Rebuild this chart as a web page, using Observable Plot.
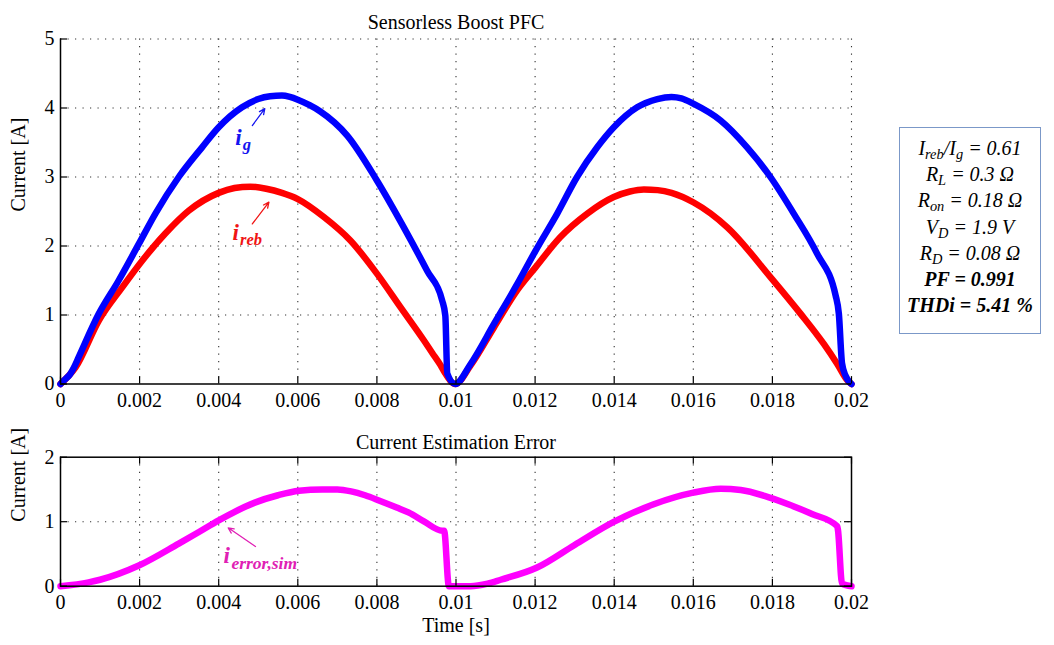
<!DOCTYPE html>
<html>
<head>
<meta charset="utf-8">
<script src="https://cdn.jsdelivr.net/npm/d3@7"></script>
<script src="https://cdn.jsdelivr.net/npm/@observablehq/plot@0.6"></script>
<style>
  body { margin: 0; background: #fff; }
  #chart { position: relative; width: 1054px; height: 645px; font-family: "Liberation Serif", "Times New Roman", serif; }
  #top, #bottom { position: absolute; left: 0; }
  #top { top: 0; }
  #bottom { top: 420px; }
  #params {
    position: absolute; left: 899px; top: 127px; width: 140px; height: 198px;
    border: 1px solid #7b98c8; background: #fff;
    font-family: "Liberation Serif", "Times New Roman", serif; font-style: italic; font-size: 20px;
    line-height: 26.2px; text-align: center; padding-top: 7px; box-sizing: content-box; color: #000;
  }
  #params .b { font-weight: bold; }
  #params sub { font-size: 0.72em; vertical-align: -0.28em; line-height: 0; }
</style>
</head>
<body>
<div id="chart">
  <div id="top"></div>
  <div id="bottom"></div>
  <div id="params"></div>
</div>
<script>
// ---- grid line current i_g [A] vs time [s]
const igTime = [0, 0.00012, 0.00024, 0.00034, 0.00046, 0.00097, 0.00147, 0.00198, 0.0024, 0.00299, 0.00358, 0.004,
  0.00459, 0.00500, 0.00530, 0.00560, 0.00580, 0.006, 0.0063, 0.00657, 0.00725, 0.008, 0.00868, 0.00927, 0.00965, 0.00973,
  0.00978, 0.00998,
  0.01037, 0.01096, 0.01155, 0.01201, 0.01256, 0.01306, 0.01357, 0.01399, 0.01458, 0.01509, 0.01545, 0.01570,
  0.01601, 0.01669, 0.01736, 0.01795, 0.01854, 0.01913, 0.0196, 0.01968, 0.01976, 0.01985, 0.02];
const igCurrent = [0, 0.07, 0.14, 0.24, 0.39, 1.02, 1.5, 2.03, 2.47, 3.0, 3.43, 3.72,
  4.01, 4.13, 4.17, 4.18, 4.16, 4.12, 4.04, 3.95, 3.6, 2.95, 2.27, 1.64, 1.21, 0.99,
  0.15, 0,
  0.29, 0.87, 1.45, 1.93, 2.47, 3.0, 3.43, 3.72, 4.01, 4.13, 4.16, 4.14,
  4.06, 3.82, 3.43, 3.0, 2.47, 1.89, 1.28, 1.02, 0.3, 0.12, 0];

// ---- rebuilt (estimated) current i_reb [A]
const irebTime = [0, 0.00038, 0.00097, 0.00156, 0.00207, 0.00265, 0.00324, 0.004, 0.0044, 0.0048, 0.0052, 0.0056, 0.006,
  0.00666, 0.00733, 0.008, 0.0086, 0.00919, 0.0094, 0.0096, 0.0097, 0.00998,
  0.01037, 0.01096, 0.01155, 0.01201, 0.01264, 0.01332, 0.01399, 0.0144, 0.01475, 0.0151, 0.01545, 0.01601, 0.01686,
  0.01795, 0.01871, 0.0193, 0.01964, 0.0199, 0.02];
const irebCurrent = [0, 0.24, 0.92, 1.4, 1.79, 2.18, 2.51, 2.77, 2.84, 2.86, 2.83, 2.77, 2.68,
  2.42, 2.08, 1.6, 1.11, 0.63, 0.45, 0.28, 0.18, 0,
  0.27, 0.82, 1.36, 1.69, 2.13, 2.47, 2.71, 2.79, 2.82, 2.81, 2.77, 2.63, 2.27,
  1.55, 1.02, 0.58, 0.29, 0.05, 0];

// ---- estimation error i_error,sim [A]
const errTime = [0, 0.00071, 0.001, 0.00198, 0.00299, 0.0035, 0.004, 0.00493, 0.0055, 0.00603, 0.00662, 0.0070, 0.00735,
  0.0077, 0.00805, 0.0085, 0.00881, 0.0092, 0.00965, 0.0097, 0.00982, 0.01037, 0.0108, 0.01113, 0.01205, 0.013, 0.014,
  0.015, 0.016, 0.01669, 0.0172, 0.0178, 0.0184, 0.019, 0.01964, 0.01966, 0.01976, 0.02];
const errCurrent = [0, 0.06, 0.1, 0.32, 0.66, 0.84, 1.02, 1.3, 1.41, 1.48, 1.5, 1.5, 1.47,
  1.41, 1.33, 1.22, 1.14, 1.0, 0.86, 0.86, 0, 0, 0.04, 0.1, 0.29, 0.64, 1.0,
  1.27, 1.45, 1.51, 1.49, 1.4, 1.27, 1.12, 0.93, 0.86, 0.04, 0];

// ---- axes
const xTicks = [0, 0.002, 0.004, 0.006, 0.008, 0.01, 0.012, 0.014, 0.016, 0.018, 0.02];
const xTickLabels = ["0", "0.002", "0.004", "0.006", "0.008", "0.01", "0.012", "0.014", "0.016", "0.018", "0.02"];
const yTicksTop = [0, 1, 2, 3, 4, 5];
const yTicksBottom = [0, 1, 2];

// ---- annotations (data coordinates)
const topLabelMain = ["i", "i"];
const topLabelSub = ["g", "reb"];
const topLabelT = [0.00442, 0.00435];
const topLabelV = [3.457, 2.08];
const topLabelColor = ["#1414f0", "#f01414"];
const topArrowT1 = [0.00485, 0.00485];
const topArrowV1 = [3.746, 2.32];
const topArrowT2 = [0.005166, 0.00527];
const topArrowV2 = [3.99, 2.635];
const errLabelMain = ["i"];
const errLabelSub = ["error,sim"];
const errLabelT = [0.00412];
const errLabelV = [0.352];
const errArrowT1 = [0.00493];
const errArrowV1 = [0.616];
const errArrowT2 = [0.00424];
const errArrowV2 = [0.905];

// ---- parameter box
const paramLines = [
  {html: "I<sub>reb</sub>/I<sub>g</sub> = 0.61", bold: false},
  {html: "R<sub>L</sub> = 0.3 Ω", bold: false},
  {html: "R<sub>on</sub> = 0.18 Ω", bold: false},
  {html: "V<sub>D</sub> = 1.9 V", bold: false},
  {html: "R<sub>D</sub> = 0.08 Ω", bold: false},
  {html: "PF = 0.991", bold: true},
  {html: "THDi = 5.41 %", bold: true}
];

const toRows = (ts, vs) => ts.map((t, i) => ({t, v: vs[i]}));
const ig = toRows(igTime, igCurrent);
const ireb = toRows(irebTime, irebCurrent);
const ierr = toRows(errTime, errCurrent);
const fmtX = d => xTickLabels[xTicks.indexOf(d)];
const fmtY = d => String(d);

const W = 1054, ML = 60, MR = 203;
const grid = {stroke: "#333", strokeOpacity: 1, strokeWidth: 1.1, strokeDasharray: "1.2,6.3"};
const lineStyle = {strokeWidth: 6.5, strokeLinejoin: "round", strokeLinecap: "round", curve: "monotone-x"};
const fontStyle = {fontFamily: "Liberation Serif, Times New Roman, serif", fontSize: "20px", color: "#000", background: "#fff", overflow: "visible"};
const TICK = 7;

// Top panel: input current and its reconstruction
{
  const H = 420, MT = 38.5, MB = 36.5;
  const iw = W - ML - MR, ih = H - MT - MB;
  const topChart = Plot.plot({
    width: W, height: H, marginLeft: ML, marginRight: MR, marginTop: MT, marginBottom: MB,
    style: fontStyle,
    x: {domain: [0, 0.02]},
    y: {domain: [0, 5]},
    marks: [
      Plot.gridX(xTicks.filter(d => d > 0), grid),
      Plot.gridY(yTicksTop.filter(d => d > 0), grid),
      Plot.line(ireb, {x: "t", y: "v", stroke: "#ff0000", ...lineStyle}),
      Plot.line(ig, {x: "t", y: "v", stroke: "#0000ff", ...lineStyle}),
      Plot.ruleX([0], {stroke: "#000", strokeWidth: 1.5}),
      Plot.ruleY([0], {stroke: "#000", strokeWidth: 1.5}),
      Plot.ruleX(xTicks, {x: d => d, insetTop: ih - TICK, stroke: "#000", strokeWidth: 1.2}),
      Plot.ruleY(yTicksTop, {y: d => d, insetRight: iw - TICK, stroke: "#000", strokeWidth: 1.2}),
      Plot.axisX(xTicks, {tickSize: 0, tickPadding: 9, tickFormat: fmtX, label: null}),
      Plot.axisY(yTicksTop, {tickSize: 0, tickPadding: 6, tickFormat: fmtY, label: null}),
      Plot.text(["Sensorless Boost PFC"], {frameAnchor: "top", dy: -24.5, fontSize: 20}),
      Plot.text(["Current [A]"], {frameAnchor: "left", dx: -41.5, rotate: -90, fontSize: 20}),
      Plot.arrow(topArrowT1.map((t, i) => i), {
        x1: i => topArrowT1[i], y1: i => topArrowV1[i], x2: i => topArrowT2[i], y2: i => topArrowV2[i],
        stroke: i => topLabelColor[i], strokeWidth: 1.3, headLength: 7, headAngle: 50
      }),
      Plot.text(topLabelMain.map((s, i) => i), {
        x: i => topLabelT[i], y: i => topLabelV[i], text: i => topLabelMain[i], fill: i => topLabelColor[i],
        textAnchor: "start", fontSize: 23, fontWeight: "bold", fontStyle: "italic", dy: -7.4
      }),
      Plot.text(topLabelSub.map((s, i) => i), {
        x: i => topLabelT[i], y: i => topLabelV[i], text: i => topLabelSub[i], fill: i => topLabelColor[i],
        textAnchor: "start", fontSize: 16.5, fontWeight: "bold", fontStyle: "italic", dx: 7.5, dy: -0.3
      })
    ]
  });
  document.getElementById("top").append(topChart);
}

// Bottom panel: estimation error
{
  const H = 225, MT = 36.7, MB = 59.3;
  const iw = W - ML - MR, ih = H - MT - MB;
  const errColor = "#e020b4";
  const bottomChart = Plot.plot({
    width: W, height: H, marginLeft: ML, marginRight: MR, marginTop: MT, marginBottom: MB,
    style: fontStyle,
    x: {domain: [0, 0.02]},
    y: {domain: [0, 2]},
    marks: [
      Plot.gridX(xTicks.filter(d => d > 0 && d < 0.02), grid),
      Plot.gridY(yTicksBottom.filter(d => d > 0 && d < 2), grid),
      Plot.line(ierr, {x: "t", y: "v", stroke: "#ff00ff", ...lineStyle}),
      Plot.frame({stroke: "#000", strokeWidth: 1.5}),
      Plot.ruleX(xTicks, {x: d => d, insetTop: ih - TICK, stroke: "#000", strokeWidth: 1.2}),
      Plot.ruleX(xTicks, {x: d => d, insetBottom: ih - TICK, stroke: "#000", strokeWidth: 1.2}),
      Plot.ruleY(yTicksBottom, {y: d => d, insetRight: iw - TICK, stroke: "#000", strokeWidth: 1.2}),
      Plot.ruleY(yTicksBottom, {y: d => d, insetLeft: iw - TICK, stroke: "#000", strokeWidth: 1.2}),
      Plot.axisX(xTicks, {tickSize: 0, tickPadding: 9, tickFormat: fmtX, label: null}),
      Plot.axisY(yTicksBottom, {tickSize: 0, tickPadding: 6, tickFormat: fmtY, label: null}),
      Plot.text(["Current Estimation Error"], {frameAnchor: "top", dy: -22, fontSize: 20}),
      Plot.text(["Time [s]"], {frameAnchor: "bottom", dy: 46, fontSize: 20}),
      Plot.text(["Current [A]"], {frameAnchor: "left", dx: -41.5, rotate: -90, fontSize: 20}),
      Plot.arrow(errArrowT1.map((t, i) => i), {
        x1: i => errArrowT1[i], y1: i => errArrowV1[i], x2: i => errArrowT2[i], y2: i => errArrowV2[i],
        stroke: errColor, strokeWidth: 1.3, headLength: 7, headAngle: 50
      }),
      Plot.text(errLabelMain.map((s, i) => i), {
        x: i => errLabelT[i], y: i => errLabelV[i], text: i => errLabelMain[i], fill: errColor,
        textAnchor: "start", fontSize: 23, fontWeight: "bold", fontStyle: "italic", dy: -7.4
      }),
      Plot.text(errLabelSub.map((s, i) => i), {
        x: i => errLabelT[i], y: i => errLabelV[i], text: i => errLabelSub[i], fill: errColor,
        textAnchor: "start", fontSize: 17.5, fontWeight: "bold", fontStyle: "italic", dx: 8, dy: -0.5
      })
    ]
  });
  document.getElementById("bottom").append(bottomChart);
}

// Parameter summary box
{
  const box = document.getElementById("params");
  for (const line of paramLines) {
    const div = document.createElement("div");
    if (line.bold) div.className = "b";
    div.innerHTML = line.html;
    box.append(div);
  }
}
</script>
</body>
</html>
